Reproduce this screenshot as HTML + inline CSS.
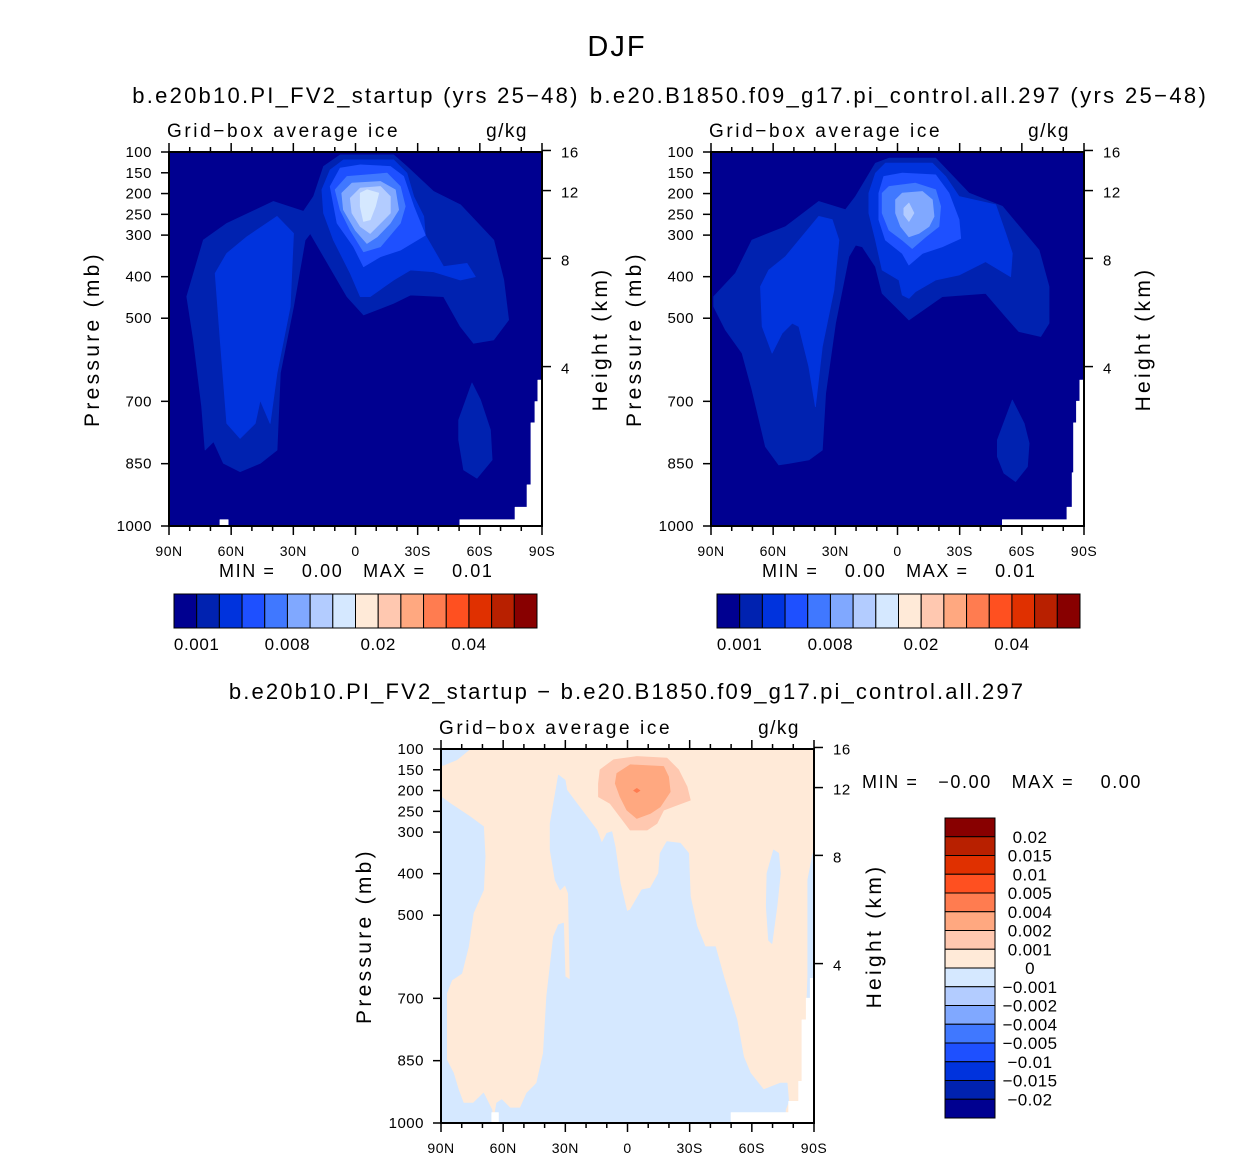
<!DOCTYPE html>
<html><head><meta charset="utf-8"><title>DJF ice</title>
<style>
html,body{margin:0;padding:0;background:#fff;}
svg{display:block;font-family:"Liberation Sans",sans-serif;}
</style></head>
<body>
<svg id="fig" width="1256" height="1159" viewBox="0 0 1256 1159" xmlns="http://www.w3.org/2000/svg">
<text x="617" y="56" font-size="29" text-anchor="middle" letter-spacing="2">DJF</text>
<text x="356" y="103" font-size="22" text-anchor="middle" letter-spacing="2.25">b.e20b10.PI_FV2_startup (yrs 25−48)</text>
<text x="899" y="103" font-size="22" text-anchor="middle" letter-spacing="2.35">b.e20.B1850.f09_g17.pi_control.all.297 (yrs 25−48)</text>
<text x="627" y="699" font-size="22" text-anchor="middle" letter-spacing="2.15">b.e20b10.PI_FV2_startup − b.e20.B1850.f09_g17.pi_control.all.297</text>
<g id="p1"></g>
<g id="p2"></g>
<g id="p3"></g>
<g id="cb"></g>
</svg>
<script>
// ---- data ----
const latTicks = [90, 60, 30, 0, -30, -60, -90];
const latLabels = ["90N", "60N", "30N", "0", "30S", "60S", "90S"];
const presTicks = [100, 150, 200, 250, 300, 400, 500, 700, 850, 1000];
const kmTicks = [16, 12, 8, 4];
const absColors = ["#000090","#0022b0","#0033dd","#1e50ff","#4078ff","#80a8ff","#b3ccff","#d5e8ff","#ffead8","#ffc8b0","#ffa880","#ff7c50","#ff5020","#e03000","#b82000","#880000"];
const absLevels = [0.001,0.002,0.003,0.005,0.008,0.01,0.012,0.015,0.02,0.025,0.03,0.035,0.04,0.045,0.05];
const absLabelIdx = [0, 4, 8, 12];
const diffLevels = ["0.02","0.015","0.01","0.005","0.004","0.002","0.001","0","−0.001","−0.002","−0.004","−0.005","−0.01","−0.015","−0.02"];
const diffColors = ["#880000","#b82000","#e03000","#ff5020","#ff7c50","#ffa880","#ffc8b0","#ffead8","#d5e8ff","#b3ccff","#80a8ff","#4078ff","#1e50ff","#0033dd","#0022b0","#000090"];
// contour regions as [lat, pressure] pairs
const p1Level1 = [[81.4,448],[73.4,312],[62.1,272],[39.6,219],[25.1,243],[20.2,207],[15.4,135],[7.4,107],[-18.4,107],[-24.8,135],[-37.7,195],[-50.6,227],[-66.7,312],[-71.5,408],[-73.9,504],[-66.7,552],[-57,560],[-50.6,520],[-42.5,448],[-26.5,444],[-18.4,464],[-3.9,492],[4.1,448],[21.8,296],[24.3,312],[29.9,472],[36.3,632],[37.9,817],[46,849],[55.7,869],[63.7,849],[68.5,797],[72.6,817],[74.2,713],[78.2,552]];
const p1Blob = [[-49.8,745],[-56.2,656],[-60.3,697],[-65.1,769],[-65.9,841],[-58.6,885],[-52.2,865],[-49.8,793]];
const p1Level2a = [[67.7,392],[62.1,344],[52.4,304],[37.9,255],[29.9,296],[31.5,472],[37.9,632],[41.2,753],[46,697],[48.4,753],[55.7,789],[62.1,753],[65.3,552]];
const p1Level2b = [[16.2,191],[12.2,143],[5.8,119],[-18.4,119],[-24.8,151],[-28.1,207],[-32.9,255],[-33.7,300],[-42.5,376],[-53.8,368],[-57.8,400],[-50.6,408],[-37.7,388],[-26.5,384],[-18.4,408],[-7.1,448],[-2.3,448],[2.5,392],[10.6,312],[15.4,247]];
const p1Level3 = [[12.2,183],[7.4,139],[-2.3,131],[-16.8,135],[-23.2,159],[-28.1,231],[-33.7,300],[-21.6,336],[-12,352],[-3.9,376],[0.9,328],[8.9,271]];
const p1Level4 = [[9.8,191],[4.1,159],[-15.2,151],[-21.6,183],[-24,231],[-21.6,271],[-12,328],[-3.9,340],[2.5,288],[7.4,239]];
const p1Level5 = [[6.6,199],[1.7,175],[-12,171],[-19.2,191],[-20.8,239],[-16.8,271],[-10.4,304],[-5.5,320],[0.1,288],[5.8,239]];
const p1Level6 = [[2.5,211],[-2.3,187],[-12,183],[-16.8,207],[-16.8,247],[-12,271],[-7.1,296],[-2.3,279],[1.7,247]];
const p1Level7 = [[-2.3,199],[-5.5,191],[-11.2,199],[-9.6,231],[-7.1,263],[-3.9,267],[-2.3,231]];
const p1Missing = [[-50.4,985],[-77,985],[-77,955],[-82.8,955],[-82.8,901],[-84.7,901],[-84.7,752],[-86.6,752],[-86.6,701],[-88,701],[-88,649],[-90,649],[-90,1000],[-50.4,1000]];
const p1Missing2 = [[65.4,985],[61.5,985],[61.5,1000],[65.4,1000]];
const p2Level1 = [[88.7,448],[78.2,392],[70.2,312],[54.1,280],[38,219],[25.1,239],[20.2,207],[10.6,127],[4.1,115],[-18.4,115],[-34.5,199],[-50.6,231],[-68.3,336],[-73.1,424],[-73.1,512],[-69.1,544],[-58.6,532],[-52.2,496],[-42.5,440],[-21.6,448],[-5.5,504],[0.9,472],[7.4,440],[10.6,376],[17,328],[20.2,324],[23.5,352],[29.9,512],[34.7,681],[36.3,817],[42.8,841],[52.4,849],[57.3,853],[63.7,809],[70.2,672],[75,584],[83,528],[88.7,472]];
const p2Blob = [[-48.2,793],[-55.4,697],[-61.1,753],[-63.5,801],[-62.7,857],[-57,893],[-51.4,873],[-48.2,833]];
const p2Level2a = [[66.1,424],[62.1,384],[54.1,352],[38,255],[31.5,263],[28.3,312],[30.7,432],[36.3,568],[39.6,713],[42.8,616],[47.6,520],[50.8,512],[55.7,536],[60.5,584],[65.3,520]];
const p2Level2b = [[13.8,199],[10.6,151],[5.8,127],[-16.8,127],[-23.2,159],[-29.7,207],[-47.4,227],[-52.2,296],[-55.4,344],[-54.6,400],[-42.5,364],[-29.7,396],[-18.4,408],[-8.7,436],[-5.5,452],[-2.3,444],[-0.7,408],[7.4,384],[10.6,312],[13.8,247]];
const p2Level3 = [[9,199],[6.6,159],[-2.3,151],[-18.4,155],[-24.8,199],[-29.7,263],[-30.5,308],[-21.6,328],[-12,344],[-5.5,372],[-2.3,344],[5.8,312],[9,263]];
const p2Level4 = [[7.4,199],[4.1,183],[-8.7,175],[-18.4,191],[-20.8,231],[-20,279],[-13.6,304],[-7.1,332],[-2.3,312],[4.1,288],[7.4,247]];
const p2Level5 = [[0.9,215],[-2.3,199],[-12,195],[-16.8,215],[-17.6,255],[-15.2,279],[-10.3,296],[-5.5,304],[-1.5,279],[0.9,247]];
const p2Level6 = [[-3.1,235],[-5.5,223],[-7.9,247],[-5.5,267],[-3.1,251]];
const p2Missing = [[-50.6,985],[-81.8,985],[-81.8,955],[-84.3,955],[-84.3,872],[-85,872],[-85,752],[-86.4,752],[-86.4,700],[-88,700],[-88,649],[-90,649],[-90,1000],[-50.6,1000]];
const dCorner = [[90,100],[76,100],[82.4,126],[88.9,139],[90,139]];
const dLeft = [[90,215],[85.6,231],[76,263],[69.5,287],[68.7,359],[69.5,439],[74.4,495],[76.8,576],[80,640],[84.8,656],[87.3,688],[87.3,848],[84,880],[81.6,920],[79.2,952],[74.4,952],[69.5,928],[65.5,968],[64.7,1000],[90,1000]];
const dCenter = [[33.3,163],[30.1,175],[29.3,199],[24.5,231],[14.8,295],[12.4,327],[10,303],[7.6,299],[6,335],[3.5,423],[0.3,491],[-1.3,487],[-6.9,439],[-11,435],[-15,399],[-15.8,351],[-19,323],[-25.5,327],[-29.5,351],[-30.3,455],[-33.5,527],[-37.5,576],[-42.4,576],[-46.4,648],[-52.8,752],[-56,840],[-59.3,880],[-65.7,920],[-73.8,904],[-77,904],[-77.8,948],[-76.2,968],[-76.2,1000],[64.7,1000],[63.1,952],[60.7,944],[56.7,964],[51.8,964],[48.6,928],[43.8,904],[40.6,832],[39,696],[35.7,552],[33.3,523],[30.9,519],[30.1,648],[27.7,656],[28.5,447],[30.1,427],[32.5,439],[34.9,415],[37.3,343],[37.3,279]];
const dRightBlob = [[-67.3,399],[-70.5,343],[-72.9,351],[-73.8,399],[-72.1,479],[-69.7,568],[-68.1,560],[-67,479]];
const dRightEdge = [[-87,415],[-89.5,351],[-90,351],[-90,700],[-86.6,700],[-87,648]];
const dPos1 = [[13.2,150],[6.7,126],[-4.5,118],[-19,122],[-24.6,150],[-28.7,191],[-30.3,223],[-23.8,235],[-17.4,247],[-14.2,279],[-9.4,295],[-1.3,295],[3.5,263],[8.4,231],[14,215],[14,183]];
const dPos2 = [[5.1,159],[-1.3,138],[-17.4,142],[-19.8,167],[-20.6,203],[-15.8,239],[-11,255],[-4.5,267],[0.3,247],[3.5,215],[5.9,183]];
const dPeak = [[-4.5,195],[-6,200],[-4.5,205],[-3,200]];
const dMissing = [[-50,975],[-77.8,975],[-77.8,948],[-82.6,948],[-82.6,900],[-84.2,900],[-84.2,752],[-86.3,752],[-86.3,700],[-88.2,700],[-88.2,652],[-90,652],[-90,1000],[-50,1000]];
const dMissing2 = [[65.5,975],[62.3,975],[62.3,1000],[65.5,1000]];

const NS = "http://www.w3.org/2000/svg";
function mk(tag, attrs, parent) {
  const e = document.createElementNS(NS, tag);
  for (const k in attrs) e.setAttribute(k, attrs[k]);
  parent.appendChild(e);
  return e;
}
function kmToP(z) { return 1013.25 * Math.pow(1 - 2.25577e-5 * z * 1000, 5.25588); }

function panel(g, x0, y0, w, h, bg, regions, opt) {
  const xs = lat => x0 + (90 - lat) / 180 * w;
  const ys = p => y0 + (p - 100) / 900 * h;
  const bgr = mk('rect', {x: x0, y: y0, width: w, height: h, fill: bg}, g);
  
  
  regions.forEach(r => {
    const pts = r.pts.map(q => xs(q[0]).toFixed(1) + ',' + ys(q[1]).toFixed(1)).join(' ');
    const pg = mk('polygon', {points: pts, fill: r.c, stroke: r.c, 'stroke-width': 0.8, 'stroke-linejoin': 'round'}, g);
    
    
  });
  const fr = mk('rect', {x: x0, y: y0, width: w, height: h, fill: 'none', stroke: '#000', 'stroke-width': 2}, g);
  
  
  for (let lat = 90; lat >= -90; lat -= 10) {
    const major = lat % 30 === 0;
    const L = major ? 9 : 5;
    const x = xs(lat);
    mk('line', {x1: x, y1: y0 + h, x2: x, y2: y0 + h + L, stroke: '#000', 'stroke-width': 1.5}, g);
    mk('line', {x1: x, y1: y0, x2: x, y2: y0 - L, stroke: '#000', 'stroke-width': 1.5}, g);
  }
  latTicks.forEach((lat, i) => {
    const t = mk('text', {x: xs(lat), y: y0 + h + 30, 'font-size': 14, 'text-anchor': 'middle', 'letter-spacing': 0.5}, g);
    t.textContent = latLabels[i];
    
    
  });
  presTicks.forEach(p => {
    const y = ys(p);
    mk('line', {x1: x0, y1: y, x2: x0 - 8, y2: y, stroke: '#000', 'stroke-width': 1.5}, g);
    const t = mk('text', {x: x0 - 17, y: y + 5, 'font-size': 15, 'text-anchor': 'end', 'letter-spacing': 0.5}, g);
    t.textContent = p;
    
    
  });
  kmTicks.forEach(z => {
    const y = ys(kmToP(z));
    mk('line', {x1: x0 + w, y1: y, x2: x0 + w + 9, y2: y, stroke: '#000', 'stroke-width': 1.5}, g);
    const t = mk('text', {x: x0 + w + 19, y: y + 7, 'font-size': 15, 'letter-spacing': 0.5}, g);
    t.textContent = z;
    
    
  });
  const yl = mk('text', {x: 0, y: 0, 'font-size': 21, 'text-anchor': 'middle', 'letter-spacing': 3.3,
    transform: `translate(${opt.plx},${y0 + h * 0.5}) rotate(-90)`}, g);
  yl.textContent = 'Pressure (mb)';
  
  
  const hl = mk('text', {x: 0, y: 0, 'font-size': 21, 'text-anchor': 'middle', 'letter-spacing': 3.3,
    transform: `translate(${opt.hlx},${y0 + h * 0.5}) rotate(-90)`}, g);
  hl.textContent = 'Height (km)';
  
  
  const lt = mk('text', {x: x0 - 2, y: y0 - 15, 'font-size': 19, 'letter-spacing': 2.6}, g);
  lt.textContent = 'Grid−box average ice';
  
  
  const ut = mk('text', {x: x0 + w - 14, y: y0 - 15, 'font-size': 19, 'text-anchor': 'end', 'letter-spacing': 1.5}, g);
  ut.textContent = 'g/kg';
  
  
}

const W = 373, H = 374;
panel(document.getElementById('p1'), 169, 152, W, H, absColors[0], [
  {pts: p1Level1, c: absColors[1], n: 'contour-level-1'},
  {pts: p1Blob, c: absColors[1], n: 'contour-level-1-blob'},
  {pts: p1Level2a, c: absColors[2], n: 'contour-level-2'},
  {pts: p1Level2b, c: absColors[2], n: 'contour-level-2'},
  {pts: p1Level3, c: absColors[3], n: 'contour-level-3'},
  {pts: p1Level4, c: absColors[4], n: 'contour-level-4'},
  {pts: p1Level5, c: absColors[5], n: 'contour-level-5'},
  {pts: p1Level6, c: absColors[6], n: 'contour-level-6'},
  {pts: p1Level7, c: absColors[7], n: 'contour-level-7'},
  {pts: p1Missing, c: '#ffffff', n: 'missing-data'},
  {pts: p1Missing2, c: '#ffffff', n: 'missing-data'}
], {plx: 99, hlx: 607});
panel(document.getElementById('p2'), 711, 152, W, H, absColors[0], [
  {pts: p2Level1, c: absColors[1], n: 'contour-level-1'},
  {pts: p2Blob, c: absColors[1], n: 'contour-level-1-blob'},
  {pts: p2Level2a, c: absColors[2], n: 'contour-level-2'},
  {pts: p2Level2b, c: absColors[2], n: 'contour-level-2'},
  {pts: p2Level3, c: absColors[3], n: 'contour-level-3'},
  {pts: p2Level4, c: absColors[4], n: 'contour-level-4'},
  {pts: p2Level5, c: absColors[5], n: 'contour-level-5'},
  {pts: p2Level6, c: absColors[6], n: 'contour-level-6'},
  {pts: p2Missing, c: '#ffffff', n: 'missing-data'}
], {plx: 641, hlx: 1150});
panel(document.getElementById('p3'), 441, 749, W, H, '#ffead8', [
  {pts: dCorner, c: '#d5e8ff', n: 'negative-region'},
  {pts: dLeft, c: '#d5e8ff', n: 'negative-region'},
  {pts: dCenter, c: '#d5e8ff', n: 'negative-region'},
  {pts: dRightBlob, c: '#d5e8ff', n: 'negative-region'},
  {pts: dRightEdge, c: '#d5e8ff', n: 'negative-region'},
  {pts: dPos1, c: '#ffc8b0', n: 'positive-level-2'},
  {pts: dPos2, c: '#ffa880', n: 'positive-level-3'},
  {pts: dPeak, c: '#ff7c50', n: 'positive-peak'},
  {pts: dMissing, c: '#ffffff', n: 'missing-data'},
  {pts: dMissing2, c: '#ffffff', n: 'missing-data'}
], {plx: 371, hlx: 881});

const svg = document.getElementById('fig');
function stat(x, y, txt, name) {
  const t = mk('text', {x: x, y: y, 'font-size': 18, 'letter-spacing': 1.6}, svg);
  t.setAttribute('style', 'white-space:pre');
  t.textContent = txt;
  
  
}
stat(219, 577, 'MIN =    0.00   MAX =    0.01', 'left-min-max');
stat(762, 577, 'MIN =    0.00   MAX =    0.01', 'right-min-max');
stat(862, 788, 'MIN =   −0.00   MAX =    0.00', 'diff-min-max');

const cb = document.getElementById('cb');
function hbar(x0, y0, w, h) {
  const bw = w / absColors.length;
  absColors.forEach((c, i) => {
    const r = mk('rect', {x: x0 + i * bw, y: y0, width: bw, height: h, fill: c, stroke: '#000', 'stroke-width': 1}, cb);
    
    
  });
  absLabelIdx.forEach(i => {
    const t = mk('text', {x: x0 + (i + 1) * bw, y: y0 + h + 22, 'font-size': 17, 'text-anchor': 'middle', 'letter-spacing': 0.6}, cb);
    t.textContent = String(absLevels[i]);
    
    
  });
}
hbar(174, 594, 363, 34);
hbar(717, 594, 363, 34);
(function vbar(x0, y0, w, h) {
  const bh = h / diffColors.length;
  diffColors.forEach((c, i) => {
    const r = mk('rect', {x: x0, y: y0 + i * bh, width: w, height: bh, fill: c, stroke: '#000', 'stroke-width': 1}, cb);
    
    
  });
  diffLevels.forEach((lab, i) => {
    const t = mk('text', {x: x0 + w + 35, y: y0 + (i + 1) * bh + 6, 'font-size': 17, 'text-anchor': 'middle', 'letter-spacing': 0.4}, cb);
    t.textContent = lab;
    
    
  });
})(945, 818, 50, 300);
</script>
</body></html>
